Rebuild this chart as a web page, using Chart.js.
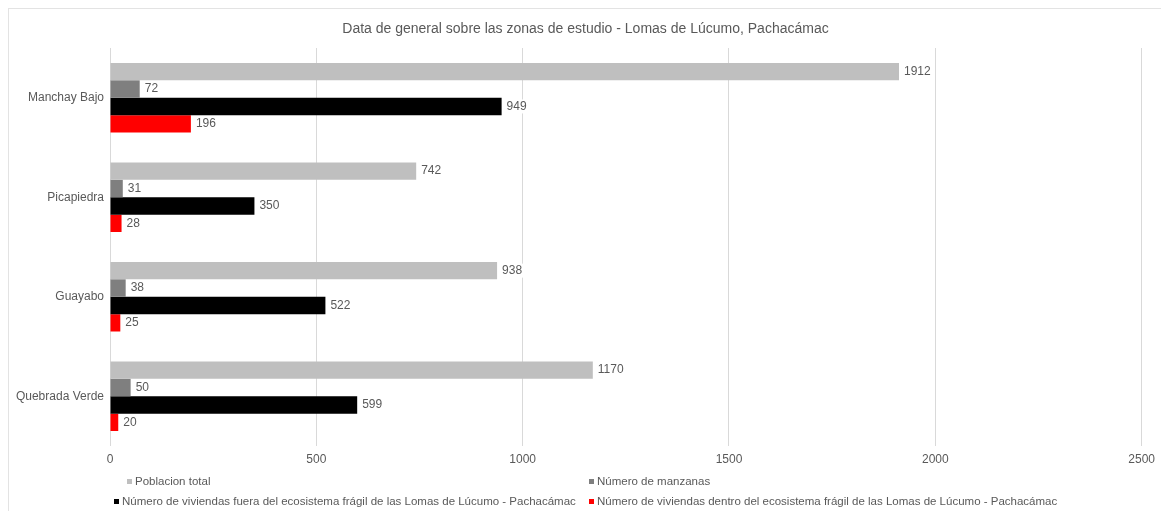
<!DOCTYPE html>
<html>
<head>
<meta charset="utf-8">
<script src="https://cdn.jsdelivr.net/npm/chart.js@4.4.1/dist/chart.umd.min.js"></script>
<style>
  html, body { margin:0; padding:0; background:#fff; }
  #wrap { position:relative; width:1161px; height:511px; font-family:"Liberation Sans", Arial, sans-serif; }
  #frame { position:absolute; left:8px; top:8px; width:1160px; height:510px; border-top:1px solid #e3e3e3; border-left:1px solid #e3e3e3; box-sizing:border-box; }
  #title { position:absolute; left:0; top:20px; width:1171px; text-align:center; font-size:14px; color:#595959; }
  .lg { position:absolute; font-size:11.5px; color:#595959; white-space:nowrap; }
  .lg i { display:inline-block; width:5px; height:5px; margin-right:3px; vertical-align:1px; }
  canvas { position:absolute; left:0; top:0; }
</style>
</head>
<body>
<div id="wrap">
  <div id="frame"></div>
  <canvas id="c" width="1161" height="511"></canvas>
  <div id="title">Data de general sobre las zonas de estudio - Lomas de Lúcumo, Pachacámac</div>
  <div id="legend"></div>
</div>
<script>
const categories = ["Manchay Bajo", "Picapiedra", "Guayabo", "Quebrada Verde"];
const seriesNames = [
  "Poblacion total",
  "Número de manzanas",
  "Número de viviendas fuera del ecosistema frágil de las Lomas de Lúcumo - Pachacámac",
  "Número de viviendas dentro del ecosistema frágil de las Lomas de Lúcumo - Pachacámac"
];
const poblacionTotal = [1912, 742, 938, 1170];
const numeroManzanas = [72, 31, 38, 50];
const viviendasFuera = [949, 350, 522, 599];
const viviendasDentro = [196, 28, 25, 20];
const xTicks = [0, 500, 1000, 1500, 2000, 2500];
const colors = ["#bfbfbf", "#7f7f7f", "#000000", "#ff0000"];

const legendPos = [
  {left:127, top:475}, {left:589, top:475},
  {left:114, top:495}, {left:589, top:495}
];
const lg = document.getElementById('legend');
seriesNames.forEach((n, i) => {
  const d = document.createElement('div');
  d.className = 'lg';
  d.style.left = legendPos[i].left + 'px';
  d.style.top = legendPos[i].top + 'px';
  d.innerHTML = '<i style="background:' + colors[i] + '"></i>' + n;
  lg.appendChild(d);
});

const FONT = '"Liberation Sans", Arial, sans-serif';
const valueLabels = {
  id: 'valueLabels',
  afterDatasetsDraw(chart) {
    const ctx = chart.ctx;
    ctx.save();
    ctx.font = '12px ' + FONT;
    ctx.textBaseline = 'middle';
    chart.data.datasets.forEach((ds, di) => {
      const meta = chart.getDatasetMeta(di);
      meta.data.forEach((bar, i) => {
        const txt = String(ds.data[i]);
        const x = bar.x + 4;
        const w = ctx.measureText(txt).width;
        ctx.fillStyle = '#ffffff';
        ctx.fillRect(x - 1, bar.y - 7, w + 4, 14);
        ctx.fillStyle = '#595959';
        ctx.fillText(txt, x + 1, bar.y);
      });
    });
    ctx.restore();
  }
};

const allSeries = [poblacionTotal, numeroManzanas, viviendasFuera, viviendasDentro];
new Chart(document.getElementById('c'), {
  type: 'bar',
  data: {
    labels: categories,
    datasets: allSeries.map((d, i) => ({
      label: seriesNames[i],
      data: d,
      backgroundColor: colors[i],
      borderWidth: 0,
      categoryPercentage: 0.7,
      barPercentage: 1.0
    }))
  },
  options: {
    indexAxis: 'y',
    responsive: false,
    animation: false,
    devicePixelRatio: 1,
    layout: { padding: { left: 0, right: 19, top: 48, bottom: 45 } },
    plugins: { legend: { display: false }, title: { display: false }, tooltip: { enabled: false } },
    scales: {
      x: {
        min: 0, max: 2500,
        afterBuildTicks(scale) { scale.ticks = xTicks.map(v => ({ value: v })); },
        afterFit(scale) { scale.height = 20; },
        grid: { color: '#d9d9d9', drawTicks: false },
        border: { display: false },
        ticks: { color: '#595959', font: { size: 12, family: FONT }, padding: 6, callback: v => String(v) }
      },
      y: {
        afterFit(scale) { scale.width = 110; },
        grid: { display: false, drawTicks: false },
        border: { display: false },
        ticks: { color: '#595959', font: { size: 12, family: FONT }, padding: 6 }
      }
    }
  },
  plugins: [valueLabels]
});
</script>
</body>
</html>
